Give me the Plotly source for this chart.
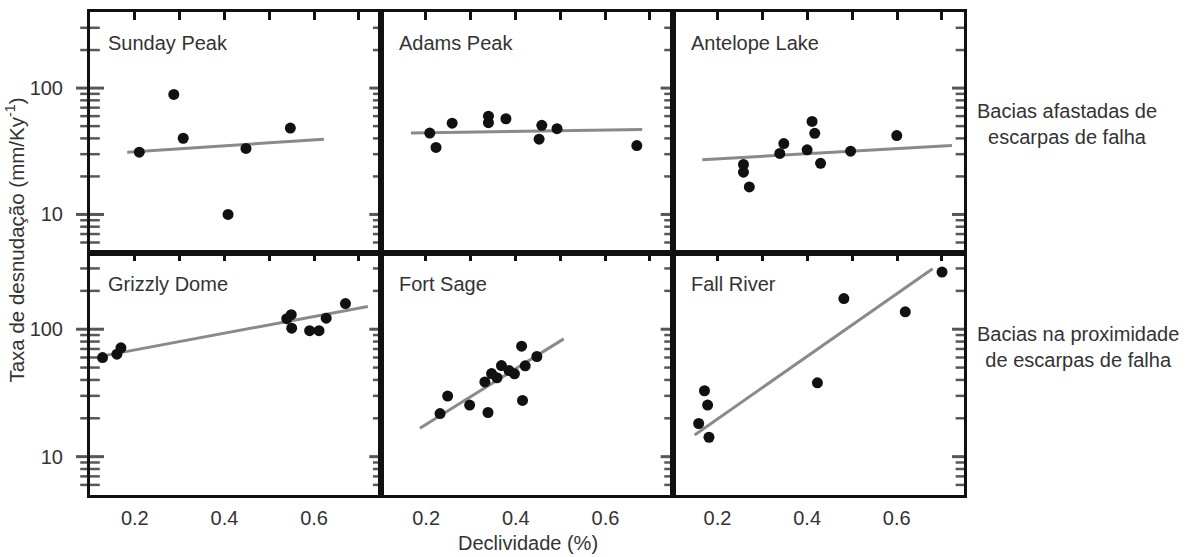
import math
import plotly.graph_objects as go

# ---------------- data ----------------
panel_names = ["Sunday Peak", "Adams Peak", "Antelope Lake",
               "Grizzly Dome", "Fort Sage", "Fall River"]

sunday_x = [0.21, 0.287, 0.308, 0.448, 0.408, 0.547]
sunday_y = [31.1, 89, 40.1, 33.3, 10.0, 48.3]
sunday_fit_x = [0.183, 0.622]
sunday_fit_y = [31.1, 39.4]

adams_x = [0.208, 0.222, 0.258, 0.339, 0.339, 0.378, 0.458, 0.452, 0.492, 0.670]
adams_y = [44.1, 33.9, 52.8, 59.9, 53.2, 57.2, 50.7, 39.4, 47.7, 35.1]
adams_fit_x = [0.166, 0.682]
adams_fit_y = [44.1, 47.1]

antelope_x = [0.258, 0.258, 0.271, 0.339, 0.348, 0.400, 0.411, 0.417, 0.430, 0.497, 0.600]
antelope_y = [24.9, 21.6, 16.5, 30.4, 36.4, 32.5, 54.5, 43.9, 25.4, 31.7, 42.1]
antelope_fit_x = [0.166, 0.723]
antelope_fit_y = [27.1, 35.1]

grizzly_x = [0.128, 0.160, 0.169, 0.539, 0.549, 0.550, 0.590, 0.611, 0.627, 0.670]
grizzly_y = [59.9, 63.7, 71.4, 121, 130, 102, 97.5, 97.5, 122, 159]
grizzly_fit_x = [0.138, 0.720]
grizzly_fit_y = [62.6, 151]

fortsage_x = [0.231, 0.248, 0.297, 0.338, 0.331, 0.346, 0.358, 0.368, 0.385, 0.397, 0.413, 0.421, 0.415, 0.447]
fortsage_y = [21.8, 29.9, 25.4, 22.2, 38.6, 44.9, 41.6, 51.9, 47.4, 44.7, 73.6, 51.6, 27.6, 61.1]
fortsage_fit_x = [0.186, 0.507]
fortsage_fit_y = [16.7, 84]

fallriver_x = [0.158, 0.171, 0.178, 0.181, 0.423, 0.482, 0.619, 0.701]
fallriver_y = [18.2, 32.9, 25.4, 14.2, 38, 174, 137, 281]
fallriver_fit_x = [0.149, 0.680]
fallriver_fit_y = [14.8, 298]

x_tickvals = [0.2, 0.3, 0.4, 0.5, 0.6, 0.7]
x_ticktext = ["0.2", "", "0.4", "", "0.6", ""]
y_major = [10, 100]
y_major_text = ["10", "100"]
y_minor = [6, 7, 8, 9, 20, 30, 40, 50, 60, 70, 80, 90, 200, 300]

row_labels = ["Bacias afastadas de<br>escarpas de falha",
              "Bacias na proximidade<br>de escarpas de falha"]
x_title = "Declividade (%)"
y_title = "Taxa de desnudação (mm/Ky<sup>-1</sup>)"

# ---------------- geometry ----------------
points = [(sunday_x, sunday_y), (adams_x, adams_y), (antelope_x, antelope_y),
          (grizzly_x, grizzly_y), (fortsage_x, fortsage_y), (fallriver_x, fallriver_y)]
fits = [(sunday_fit_x, sunday_fit_y), (adams_fit_x, adams_fit_y),
        (antelope_fit_x, antelope_fit_y), (grizzly_fit_x, grizzly_fit_y),
        (fortsage_fit_x, fortsage_fit_y), (fallriver_fit_x, fallriver_fit_y)]

FONT = "Liberation Sans, Arial, sans-serif"
TXT = "#333333"
TK = "#111111"
W, H = 1193, 557
ML, MR, MT, MB = 90, 229, 9, 62
PW, PH = W - ML - MR, H - MT - MB
XR = [0.1, 0.75]
YR = [math.log10(5), math.log10(400)]
XT_LEN = 8
YT_MAJ, YT_MIN = 10, 7
EPS = 1e-6


def px2fx(px):
    return (px - ML) / PW


def py2fy(py):
    return (H - MB - py) / PH


xdoms = [[0, 1 / 3], [1 / 3, 2 / 3], [2 / 3, 1]]
ydoms = [[py2fy(251), 1.0], [0.0, py2fy(251)]]

fig = go.Figure()
layout = {}


def mark_trace(xs, ys, symbol, sizes, widths, xa, ya):
    return go.Scatter(x=xs, y=ys, mode="markers", cliponaxis=False,
                      marker=dict(symbol=symbol, size=sizes, color=TK,
                                  line=dict(color=TK, width=widths)),
                      xaxis=xa, yaxis=ya, showlegend=False, hoverinfo="skip")


def vbar_ticks(xv, y_lo, y_hi, width, xa, ya):
    return go.Bar(x=xv, y=[y_hi - y_lo] * len(xv), base=[y_lo] * len(xv),
                  width=[width] * len(xv), marker=dict(color=TK, line=dict(width=0)),
                  cliponaxis=False, xaxis=xa, yaxis=ya, showlegend=False,
                  hoverinfo="skip")


yv = y_major + y_minor
lens = [YT_MAJ] * len(y_major) + [YT_MIN] * len(y_minor)
wds = [3] * len(y_major) + [2.5] * len(y_minor)

for k in range(6):
    r, c = divmod(k, 3)
    n = k + 1
    xa = "x" if n == 1 else f"x{n}"
    ya = "y" if n == 1 else f"y{n}"
    bottom = r == 1
    left = c == 0
    pw = PW * (xdoms[c][1] - xdoms[c][0])
    ph = PH * (ydoms[r][1] - ydoms[r][0])
    ppx = pw / (XR[1] - XR[0])
    ppd = ph / (YR[1] - YR[0])

    # tick marks along the top (inside) and, for the bottom row, the bottom (outside)
    fig.add_trace(vbar_ticks(x_tickvals, 10 ** (YR[1] - XT_LEN / ppd), 10 ** YR[1],
                             3 / ppx, xa, ya))
    if bottom:
        fig.add_trace(vbar_ticks(x_tickvals, 10 ** (YR[0] - XT_LEN / ppd), 10 ** YR[0],
                                 3 / ppx, xa, ya))
    # right ticks, inside
    right_x = [XR[1] - (L / 2) / ppx for L in lens]
    fig.add_trace(mark_trace(right_x, yv, "line-ew", lens, wds, xa, ya))
    # left ticks of the first column, centred on the frame line
    if left:
        fig.add_trace(mark_trace([XR[0] + EPS] * len(yv), yv, "line-ew",
                                 [2 * L for L in lens], wds, xa, ya))

    fig.add_trace(go.Scatter(x=fits[k][0], y=fits[k][1], mode="lines",
                             line=dict(color="#8a8a8a", width=3),
                             xaxis=xa, yaxis=ya, showlegend=False, hoverinfo="skip"))
    fig.add_trace(go.Scatter(x=points[k][0], y=points[k][1], mode="markers",
                             marker=dict(color="#111111", size=11),
                             xaxis=xa, yaxis=ya, showlegend=False))

    layout[f"xaxis{n}" if n > 1 else "xaxis"] = dict(
        domain=xdoms[c], anchor=ya, range=XR, side="bottom",
        showline=True, linecolor=TK, linewidth=3, mirror=True,
        showgrid=False, zeroline=False,
        tickmode="array", tickvals=x_tickvals if bottom else [],
        ticktext=x_ticktext if bottom else [],
        ticks="", showticklabels=bottom, ticklabelstandoff=3,
        tickfont=dict(family=FONT, size=20, color=TXT),
    )
    layout[f"yaxis{n}" if n > 1 else "yaxis"] = dict(
        domain=ydoms[r], anchor=xa, type="log", range=YR, side="left",
        showline=True, linecolor=TK, linewidth=3, mirror=True,
        showgrid=False, zeroline=False,
        tickmode="array", tickvals=y_major if left else [],
        ticktext=y_major_text if left else [],
        ticks="", showticklabels=left, ticklabelstandoff=20,
        tickfont=dict(family=FONT, size=20, color=TXT),
    )

annotations = []
for k in range(6):
    n = k + 1
    xa = "x" if n == 1 else f"x{n}"
    ya = "y" if n == 1 else f"y{n}"
    annotations.append(dict(text=panel_names[k], xref=f"{xa} domain", yref=f"{ya} domain",
                            x=0.055, y=0.872, xanchor="left", yanchor="middle",
                            showarrow=False, font=dict(family=FONT, size=20, color=TXT)))
annotations.append(dict(text=row_labels[0], xref="paper", yref="paper",
                        x=px2fx(1067), y=py2fy(121.5),
                        xanchor="center", yanchor="middle", showarrow=False,
                        font=dict(family=FONT, size=20, color=TXT)))
annotations.append(dict(text=row_labels[1], xref="paper", yref="paper",
                        x=px2fx(1078), y=py2fy(346),
                        xanchor="center", yanchor="middle", showarrow=False,
                        font=dict(family=FONT, size=20, color=TXT)))
annotations.append(dict(text=x_title, xref="paper", yref="paper",
                        x=px2fx(528), y=py2fy(543),
                        xanchor="center", yanchor="middle", showarrow=False,
                        font=dict(family=FONT, size=20, color=TXT)))
annotations.append(dict(text=y_title, xref="paper", yref="paper",
                        x=px2fx(15), y=py2fy(239),
                        xanchor="center", yanchor="middle", showarrow=False, textangle=-90,
                        font=dict(family=FONT, size=20.5, color=TXT)))

fig.update_layout(
    width=W, height=H,
    margin=dict(l=ML, r=MR, t=MT, b=MB),
    paper_bgcolor="white", plot_bgcolor="white",
    barmode="overlay", bargap=0,
    annotations=annotations,
    **layout,
)
fig.write_html("out.html", config={"displayModeBar": False},
               post_script="document.body.style.margin='0px';")
